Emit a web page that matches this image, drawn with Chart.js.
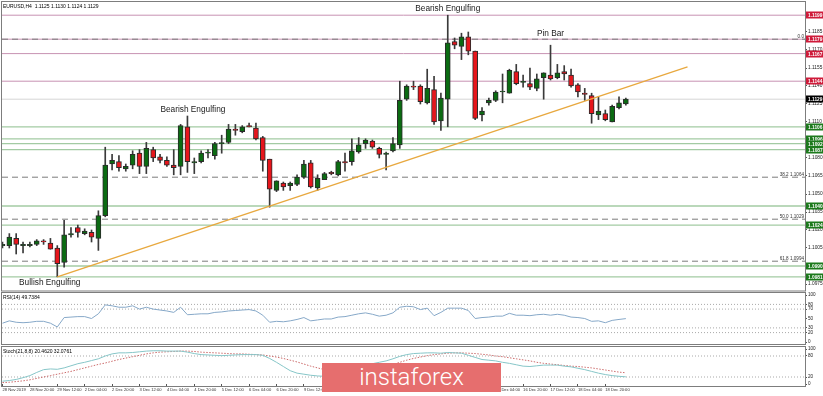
<!DOCTYPE html>
<html><head><meta charset="utf-8">
<script src="https://cdn.jsdelivr.net/npm/chart.js@4.4.1/dist/chart.umd.min.js"></script>
<style>
html,body{margin:0;padding:0;background:#fff;width:823px;height:396px;overflow:hidden;font-family:'Liberation Sans',Arial,sans-serif;}
canvas{position:absolute;left:0;}
#main{top:0;}
#rsiC{top:291px;}
#stoC{top:345px;}
.lbl{position:absolute;font-size:5px;color:#000;white-space:nowrap;line-height:6px;font-family:'Liberation Sans',Arial,sans-serif;}
#wm{position:absolute;left:322px;top:363px;width:179px;height:29px;background:#e66e6e;color:#fff;font-family:Roboto,'Open Sans',sans-serif;font-weight:300;font-size:24px;line-height:29px;text-align:center;}
</style></head>
<body>
<canvas id="main" width="823" height="292"></canvas>
<canvas id="rsiC" width="823" height="54"></canvas>
<canvas id="stoC" width="823" height="51"></canvas>
<div class="lbl" style="left:3px;top:3px;">EURUSD,H4&nbsp; 1.1125 1.1130 1.1124 1.1129</div>
<div class="lbl" style="left:3px;top:294px;">RSI(14) 49.7384</div>
<div class="lbl" style="left:3px;top:348px;">Stoch(21,8,8) 20.4620 32.0761</div>
<div id="wm">instaforex</div>
<script>
// ---------------- DATA ----------------
const opens  = [1.1007,1.1007,1.1013,1.1007,1.1007,1.1008,1.1011,1.1009,1.1005,1.0993,1.1016,1.1022,1.1017,1.1018,1.1013,1.1032,1.1075,1.1077,1.1071,1.1074,1.1084,1.1073,1.1087,1.1081,1.1078,1.1074,1.1073,1.1106,1.1076,1.1077,1.1084,1.1082,1.1092,1.1093,1.1104,1.1102,1.1107,1.1105,1.1097,1.1079,1.1053,1.1059,1.1057,1.1058,1.1064,1.1076,1.1055,1.1062,1.1068,1.1066,1.1077,1.1077,1.1085,1.1092,1.1094,1.1088,1.1083,1.1086,1.1091,1.1129,1.1140,1.1140,1.1126,1.1137,1.1111,1.1129,1.1177,1.1173,1.1181,1.1169,1.1116,1.1126,1.1128,1.1135,1.1134,1.1152,1.1143,1.1142,1.1138,1.1147,1.1149,1.1147,1.1152,1.1149,1.1141,1.1134,1.1132,1.1116,1.1117,1.1110,1.1122,1.1125];
const highs  = [1.1010,1.1017,1.1017,1.1010,1.1010,1.1012,1.1012,1.1013,1.1007,1.1028,1.1022,1.1024,1.1021,1.1020,1.1036,1.1089,1.1083,1.1082,1.1075,1.1086,1.1087,1.1093,1.1089,1.1083,1.1081,1.1087,1.1108,1.1115,1.1080,1.1086,1.1087,1.1093,1.1099,1.1108,1.1108,1.1107,1.1109,1.1109,1.1098,1.1079,1.1061,1.1060,1.1060,1.1066,1.1078,1.1078,1.1066,1.1068,1.1069,1.1078,1.1084,1.1096,1.1097,1.1096,1.1095,1.1089,1.1085,1.1097,1.1144,1.1141,1.1144,1.1141,1.1154,1.1148,1.1134,1.1199,1.1180,1.1184,1.1185,1.1169,1.1122,1.1130,1.1136,1.1150,1.1154,1.1158,1.1149,1.1155,1.1150,1.1151,1.1174,1.1158,1.1157,1.1154,1.1142,1.1138,1.1134,1.1131,1.1120,1.1124,1.1131,1.1130];
const lows   = [1.1005,1.1005,1.1000,1.1001,1.1006,1.1007,1.1008,1.1004,1.0981,1.0989,1.1014,1.1014,1.1016,1.1010,1.1003,1.1031,1.1070,1.1069,1.1069,1.1071,1.1067,1.1067,1.1077,1.1076,1.1073,1.1066,1.1066,1.1068,1.1067,1.1076,1.1080,1.1079,1.1084,1.1092,1.1099,1.1101,1.1106,1.1095,1.1069,1.1039,1.1052,1.1053,1.1053,1.1057,1.1063,1.1055,1.1053,1.1062,1.1066,1.1065,1.1069,1.1074,1.1084,1.1088,1.1088,1.1080,1.1070,1.1085,1.1088,1.1128,1.1137,1.1125,1.1125,1.1108,1.1103,1.1106,1.1171,1.1162,1.1166,1.1112,1.1111,1.1124,1.1127,1.1126,1.1134,1.1141,1.1139,1.1137,1.1136,1.1129,1.1145,1.1146,1.1145,1.1139,1.1131,1.1128,1.1109,1.1112,1.1111,1.1110,1.1121,1.1124];
const closes = [1.1008,1.1014,1.1008,1.1008,1.1008,1.1011,1.1010,1.1004,1.0992,1.1016,1.1017,1.1018,1.1019,1.1014,1.1032,1.1074,1.1078,1.1072,1.1073,1.1083,1.1073,1.1088,1.1080,1.1078,1.1074,1.1072,1.1107,1.1077,1.1077,1.1084,1.1085,1.1092,1.1092,1.1104,1.1103,1.1106,1.1106,1.1096,1.1078,1.1054,1.1061,1.1056,1.1059,1.1064,1.1075,1.1056,1.1063,1.1067,1.1067,1.1077,1.1076,1.1086,1.1091,1.1095,1.1089,1.1083,1.1084,1.1092,1.1128,1.1140,1.1139,1.1127,1.1138,1.1110,1.1130,1.1176,1.1174,1.1181,1.1169,1.1113,1.1119,1.1128,1.1135,1.1135,1.1153,1.1142,1.1143,1.1139,1.1146,1.1151,1.1146,1.1151,1.1150,1.1140,1.1135,1.1133,1.1117,1.1119,1.1112,1.1123,1.1126,1.1129];

const rsiValues = [40,45,42,41,42,44,44,40,32,52,53,54,54,50,60,79,77,74,74,77,70,74,70,68,66,63,74,58,59,60,60,63,64,66,67,68,69,66,57,42,44,43,45,48,52,45,47,49,49,53,54,57,60,62,59,55,57,62,74,76,75,69,72,56,63,72,72,72,67,50,52,53,55,55,61,57,57,56,58,59,57,59,57,53,52,50,44,45,41,46,48,49.7384];
const stochMain = [8,10,13,18,24,33,41,43,42,46,52,58,62,67,72,80,86,89,89,90,92,94,95,95,94,94,94,91,87,84,83,82,81,82,83,84,84,84,82,73,62,50,38,31,28,25,23,22,22,24,27,33,40,50,58,62,66,72,79,84,87,88,89,89,88,90,89,88,82,76,70,68,66,62,59,55,51,50,52,54,54,54,51,49,45,41,36,31,27,24,22,20.462];
const stochSignal = [4,5,7,9,12,16,20,24,28,32,36,41,46,51,56,60,65,70,74,78,82,86,89,91,92,93,94,94,93,91,90,89,88,87,86,86,85,84,83,80,77,73,68,63,57,51,46,41,36,32,29,28,29,33,38,44,50,56,62,68,73,77,81,84,86,88,89,89,88,87,85,83,80,78,75,72,69,66,62,59,57,55,53,51,50,48,46,43,40,37,34,32.0761];

const priceTicks = [1.1185,1.1170,1.1155,1.1140,1.1125,1.1110,1.1095,1.1080,1.1065,1.1050,1.1035,1.1020,1.1005,1.0990,1.0975];
const redLevels = [1.1199,1.1179,1.1167,1.1144];
const greenLevels = [1.1106,1.1096,1.1092,1.1087,1.1040,1.1024,1.0990,1.0981];
const fibPercents = ['0.0','38.2','50.0','61.8'];
const fibValues = [1.1179,1.1064,1.1029,1.0994];
const lastPrice = 1.1129;
const trendIdx = [8,100];
const trendPrice = [1.0981,1.1156];
const timeLabels = ['28 Nov 2019','28 Nov 20:00','29 Nov 12:00','2 Dec 04:00','2 Dec 20:00','3 Dec 12:00','4 Dec 04:00','4 Dec 20:00','5 Dec 12:00','6 Dec 04:00','6 Dec 20:00','9 Dec 12:00','10 Dec 04:00','10 Dec 20:00','11 Dec 12:00','12 Dec 04:00','12 Dec 20:00','13 Dec 12:00','16 Dec 04:00','16 Dec 20:00','17 Dec 12:00','18 Dec 04:00','18 Dec 20:00'];
const timeLabelBars = [0,4,8,12,16,20,24,28,32,36,40,44,48,52,56,60,64,68,72,76,80,84,88];
const rsiTicks = [100,80,70,50,30,20,0];
const rsiLevels = [80,70,30,20];
const stochTicks = [100,80,20,0];
const stochLevels = [80,20];
const annoTexts = ['Bearish Engulfing','Bearish Engulfing','Pin Bar','Bullish Engulfing'];
const annoBars = [65,27.8,80,6.9];
const annoPrices = [1.1204,1.1120,1.11833,1.09758];

// ---------------- STYLE ----------------
const X_MIN = -0.07, X_MAX = 117.15;
const FONT = "'Liberation Sans', Arial, sans-serif";
const C_UP = '#0b6b12', C_DN = '#e6161c', C_EDGE = '#2a2a2a', C_WICK = '#3a3a3a';
const C_RED_LINE = '#c792b2', C_GREEN_LINE = '#a3cba3', C_FIB = '#7b7b7b';
const C_RED_TAG = '#cf1b3a', C_GREEN_TAG = '#1d7a1d';

function hLine(v, color, dash, order, w){
  return {type:'line', data:[{x:X_MIN,y:v},{x:X_MAX,y:v}], borderColor:color, borderWidth:w||1,
          borderDash:dash||[], pointRadius:0, order:order, fill:false};
}
function frame(chart, topOff, botOff){
  const ca = chart.chartArea, ctx = chart.ctx;
  ctx.save(); ctx.strokeStyle = '#7d7d7d'; ctx.lineWidth = 1;
  ctx.strokeRect(ca.left-0.5, ca.top-topOff, ca.right-ca.left+1, ca.bottom-ca.top+topOff+botOff);
  ctx.restore();
}
const common = {responsive:false, animation:false, events:[],
  plugins:{legend:{display:false}, tooltip:{enabled:false}}};

// ---------------- MAIN PANEL ----------------
const bodyData = opens.map((o,i)=>({x:i, y:[Math.min(o,closes[i]), Math.max(o,closes[i])]}));
const wickData = lows.map((l,i)=>({x:i, y:[l, highs[i]]}));
const bodyColors = opens.map((o,i)=> closes[i] >= o ? C_UP : C_DN);

const mainDatasets = [
  ...redLevels.map(v=>hLine(v, C_RED_LINE, [], 12)),
  hLine(lastPrice, '#d6d6d6', [], 13),
  ...greenLevels.map(v=>hLine(v, C_GREEN_LINE, [], 12, 1.3)),
  ...fibValues.map(v=>hLine(v, C_FIB, [6,4], 11)),
  {type:'bar', data:wickData, barThickness:1, backgroundColor:C_WICK, grouped:false, order:3},
  {type:'bar', data:bodyData, barThickness:5, backgroundColor:bodyColors, borderColor:C_EDGE, borderWidth:1,
   borderSkipped:false, minBarLength:1, grouped:false, order:2},
  {type:'line', data:trendIdx.map((x,k)=>({x:x, y:trendPrice[k]})), borderColor:'#e8a83e', borderWidth:1.3,
   pointRadius:0, order:0, fill:false}
];

const mainPlugin = {id:'mainDeco', afterDraw(chart){
  const ctx = chart.ctx, xs = chart.scales.x, ys = chart.scales.y, ca = chart.chartArea;
  frame(chart, 0.5, 1);
  ctx.save();
  ctx.font = '4.6px ' + FONT; ctx.fillStyle = '#333'; ctx.textAlign = 'right'; ctx.textBaseline = 'bottom';
  fibValues.forEach((v,k)=>{
    const t = k===0 ? fibPercents[k] : fibPercents[k] + ' ' + v.toFixed(4);
    ctx.fillText(t, ca.right-1, ys.getPixelForValue(v)-0.5);
  });
  ctx.font = '8.3px ' + FONT; ctx.fillStyle = '#1a1a1a'; ctx.textAlign = 'center'; ctx.textBaseline = 'middle';
  annoTexts.forEach((t,k)=> ctx.fillText(t, xs.getPixelForValue(annoBars[k]), ys.getPixelForValue(annoPrices[k])));
  const tag = (v, bg) => {
    const y = Math.round(ys.getPixelForValue(v));
    ctx.fillStyle = bg; ctx.fillRect(ca.right+1, y-3.5, 823-ca.right-1, 7);
    ctx.fillStyle = '#fff'; ctx.font = 'bold 4.8px ' + FONT; ctx.textAlign = 'left'; ctx.textBaseline = 'middle';
    ctx.fillText(v.toFixed(4), ca.right+3, y+0.3);
  };
  redLevels.forEach(v=>tag(v, C_RED_TAG));
  greenLevels.forEach(v=>tag(v, C_GREEN_TAG));
  tag(lastPrice, '#000');
  ctx.restore();
}};

new Chart(document.getElementById('main'), {
  type:'bar',
  data:{datasets:mainDatasets},
  options:{...common,
    layout:{padding:{left:2, right:0, top:2, bottom:2}, autoPadding:false},
    scales:{
      x:{type:'linear', min:X_MIN, max:X_MAX, display:false, offset:false},
      y:{type:'linear', position:'right', min:1.0970, max:1.1210,
         afterBuildTicks:s=>{ s.ticks = priceTicks.map(v=>({value:v})); },
         afterFit:s=>{ s.width = 18; s.paddingTop = 0; s.paddingBottom = 0; },
         ticks:{autoSkip:false, font:{size:4.8, family:FONT}, color:'#222', padding:1, callback:v=>Number(v).toFixed(4)},
         grid:{drawOnChartArea:false, drawTicks:true, tickLength:2, color:'#555'},
         border:{display:false}}
    }},
  plugins:[mainPlugin]
});

// ---------------- RSI PANEL ----------------
new Chart(document.getElementById('rsiC'), {
  type:'line',
  data:{datasets:[
    ...rsiLevels.map(v=>hLine(v, '#a9a9a9', [1,2], 5)),
    {type:'line', data:rsiValues.map((v,i)=>({x:i,y:v})), borderColor:'#86a8c8', borderWidth:1, pointRadius:0, order:0, fill:false}
  ]},
  options:{...common,
    layout:{padding:{left:2, right:0, top:4, bottom:3}, autoPadding:false},
    scales:{
      x:{type:'linear', min:X_MIN, max:X_MAX, display:false},
      y:{type:'linear', position:'right', min:0, max:100,
         afterBuildTicks:s=>{ s.ticks = rsiTicks.map(v=>({value:v})); },
         afterFit:s=>{ s.width = 18; s.paddingTop = 0; s.paddingBottom = 0; },
         ticks:{autoSkip:false, font:{size:4.6, family:FONT}, color:'#222', padding:1},
         grid:{drawOnChartArea:false, drawTicks:true, tickLength:2, color:'#555'},
         border:{display:false}}
    }},
  plugins:[{id:'rsiFrame', afterDraw(c){ frame(c, 2.5, 2.5); }}]
});

// ---------------- STOCH PANEL ----------------
new Chart(document.getElementById('stoC'), {
  type:'line',
  data:{datasets:[
    ...stochLevels.map(v=>hLine(v, '#a9a9a9', [1,2], 5)),
    {type:'line', data:stochSignal.map((v,i)=>({x:i,y:v})), borderColor:'#cc6b6b', borderWidth:1, borderDash:[1.5,1.5], pointRadius:0, order:1, fill:false},
    {type:'line', data:stochMain.map((v,i)=>({x:i,y:v})), borderColor:'#86c6c8', borderWidth:1, pointRadius:0, order:0, fill:false}
  ]},
  options:{...common,
    layout:{padding:{left:2, right:0, top:4, bottom:0}, autoPadding:false},
    scales:{
      x:{type:'linear', min:X_MIN, max:X_MAX, position:'bottom',
         afterBuildTicks:s=>{ s.ticks = timeLabelBars.map(v=>({value:v})); },
         afterFit:s=>{ s.height = 12; s.paddingLeft = 0; s.paddingRight = 0; },
         ticks:{autoSkip:false, maxRotation:0, minRotation:0, align:'start', font:{size:4.1, family:FONT}, color:'#333', padding:1.5,
                callback:(v,idx)=>timeLabels[idx]},
         grid:{drawOnChartArea:false, drawTicks:true, tickLength:2, color:'#555'},
         border:{display:false}},
      y:{type:'linear', position:'right', min:0, max:100,
         afterBuildTicks:s=>{ s.ticks = stochTicks.map(v=>({value:v})); },
         afterFit:s=>{ s.width = 18; s.paddingTop = 0; s.paddingBottom = 0; },
         ticks:{autoSkip:false, font:{size:4.6, family:FONT}, color:'#222', padding:1},
         grid:{drawOnChartArea:false, drawTicks:true, tickLength:2, color:'#555'},
         border:{display:false}}
    }},
  plugins:[{id:'stoFrame', afterDraw(c){ frame(c, 2.5, 2.5); }}]
});
</script>
</body></html>
